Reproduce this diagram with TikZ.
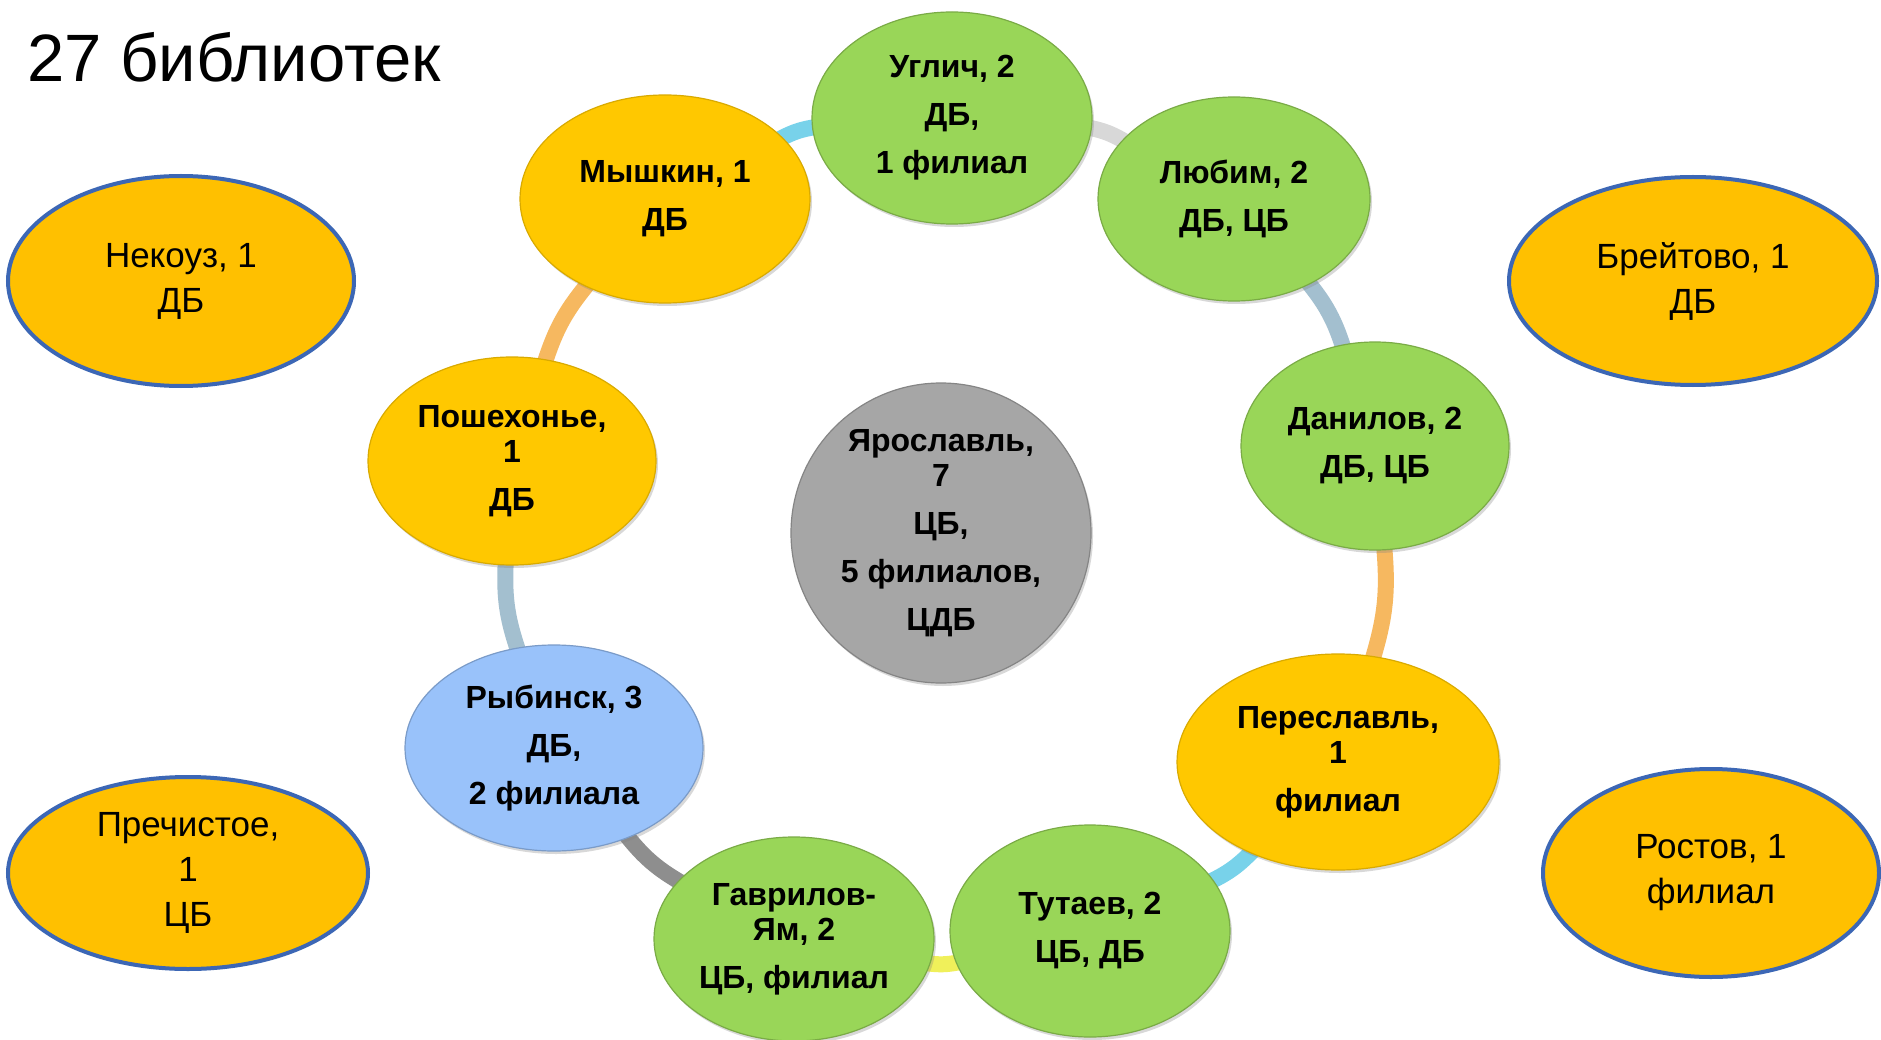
\documentclass[tikz,border=0pt]{standalone}
\usepackage{fontspec}
\setmainfont{Liberation Sans}
\usetikzlibrary{shapes.geometric,shadows}
\pgfdeclarelayer{bg}
\pgfsetlayers{bg,main}
\definecolor{cgreen}{RGB}{153,214,88}
\definecolor{cgold}{RGB}{255,200,0}
\definecolor{cblue}{RGB}{153,194,250}
\definecolor{cgray}{RGB}{166,166,166}
\definecolor{couter}{RGB}{255,192,0}
\definecolor{cborder}{RGB}{60,103,181}
\definecolor{scyan}{RGB}{120,210,234}
\definecolor{slight}{RGB}{216,216,216}
\definecolor{sblue}{RGB}{163,191,207}
\definecolor{sorange}{RGB}{246,184,96}
\definecolor{syellow}{RGB}{240,240,90}
\definecolor{sdark}{RGB}{142,142,142}
\begin{document}
\begin{tikzpicture}[x=1pt,y=-1pt,
  inode/.style={ellipse, inner sep=0pt, align=center,
    font=\bfseries\fontsize{32}{35}\selectfont, line width=1.2pt,
    drop shadow={opacity=0.3,shadow xshift=2pt,shadow yshift=-3pt}},
  gnode/.style={inode, fill=cgreen, draw=cgreen!80!black},
  ynode/.style={inode, fill=cgold, draw=cgold!85!black},
  bnode/.style={inode, fill=cblue, draw=cblue!80!black},
  cnode/.style={inode, circle, fill=cgray, draw=cgray!80!black},
  onode/.style={ellipse, inner sep=0pt, align=center, fill=couter,
    draw=cborder, line width=4pt, font=\fontsize{35}{45}\selectfont},
  seg/.style={line width=16pt, shorten <=-20pt, shorten >=-20pt, bend left=12}]
\useasboundingbox (0,0) rectangle (1881,1040);
\begin{pgfonlayer}{bg}
\fill[white] (0,0) rectangle (1881,1040);
\end{pgfonlayer}

\node[anchor=base west, font=\fontsize{67}{72}\selectfont] (title) at (24,82) {27 библиотек};

\node[gnode, minimum width=280pt, minimum height=212pt] (uglich) at (952,118)
  {Углич, 2\\[13pt]ДБ,\\[13pt]1 филиал};
\node[gnode, minimum width=272pt, minimum height=204pt] (lyubim) at (1234,199)
  {Любим, 2\\[13pt]ДБ, ЦБ};
\node[gnode, minimum width=268pt, minimum height=208pt] (danilov) at (1375,446)
  {Данилов, 2\\[13pt]ДБ, ЦБ};
\node[ynode, minimum width=322pt, minimum height=216pt] (peresl) at (1338,762)
  {Переславль,\\1\\[13pt]филиал};
\node[gnode, minimum width=280pt, minimum height=212pt] (tutaev) at (1090,931)
  {Тутаев, 2\\[13pt]ЦБ, ДБ};
\node[gnode, minimum width=280pt, minimum height=204pt] (gavr) at (794,939)
  {Гаврилов-\\Ям, 2\\[13pt]ЦБ, филиал};
\node[bnode, minimum width=298pt, minimum height=206pt] (rybinsk) at (554,748)
  {Рыбинск, 3\\[13pt]ДБ,\\[13pt]2 филиала};
\node[ynode, minimum width=288pt, minimum height=208pt] (poshek) at (512,461)
  {Пошехонье,\\1\\[13pt]ДБ};
\node[ynode, minimum width=290pt, minimum height=208pt] (myshkin) at (665,199)
  {Мышкин, 1\\[13pt]ДБ};
\node[cnode, minimum size=300pt] (yar) at (941,533)
  {Ярославль,\\7\\[13pt]ЦБ,\\[13pt]5 филиалов,\\[13pt]ЦДБ};

\node[onode, minimum width=346pt, minimum height=210pt] (nekouz) at (181,281)
  {Некоуз, 1\\ДБ};
\node[onode, minimum width=368pt, minimum height=208pt] (breit) at (1693,281)
  {Брейтово, 1\\ДБ};
\node[onode, minimum width=360pt, minimum height=192pt] (prech) at (188,873)
  {Пречистое,\\1\\ЦБ};
\node[onode, minimum width=336pt, minimum height=208pt] (rostov) at (1711,873)
  {Ростов, 1\\филиал};

\begin{pgfonlayer}{bg}
\draw[seg, scyan]   (myshkin) to (uglich);
\draw[seg, slight]  (uglich) to (lyubim);
\draw[seg, sblue]   (lyubim) to (danilov);
\draw[seg, sorange] (danilov) to (peresl);
\draw[seg, scyan]   (peresl) to (tutaev);
\draw[seg, syellow] (tutaev) to (gavr);
\draw[seg, sdark]   (gavr) to (rybinsk);
\draw[seg, sblue]   (rybinsk) to (poshek);
\draw[seg, sorange] (poshek) to (myshkin);
\end{pgfonlayer}
\end{tikzpicture}
\end{document}
